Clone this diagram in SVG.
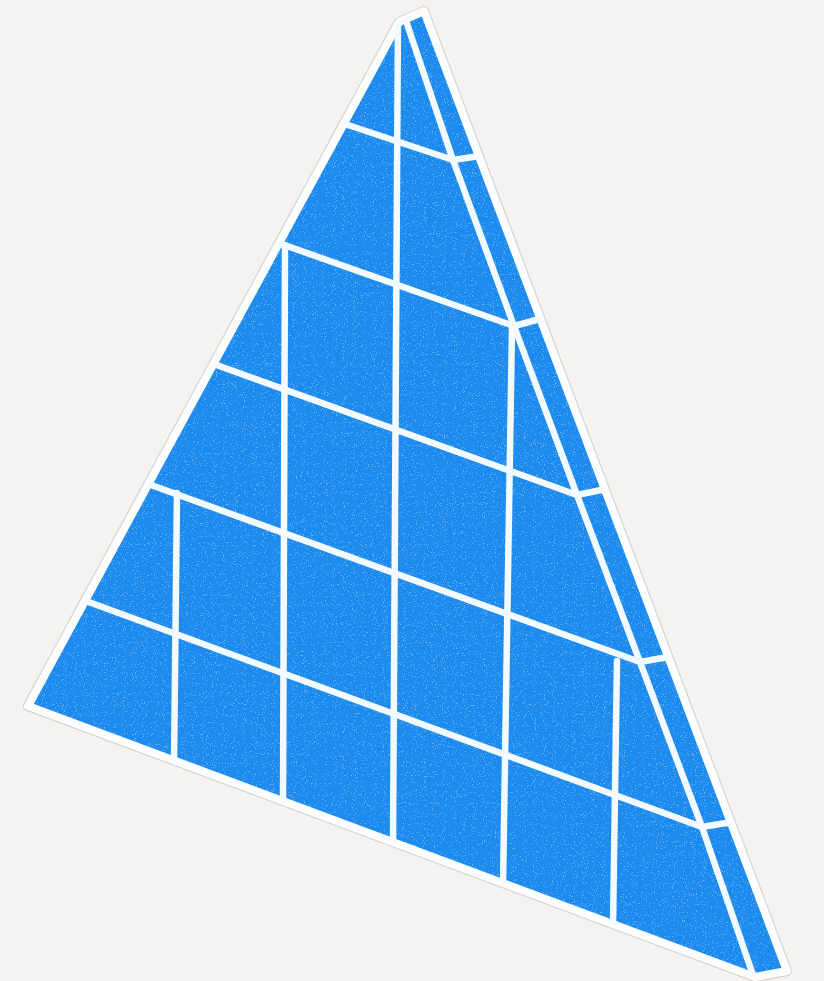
<svg xmlns="http://www.w3.org/2000/svg" width="824" height="981" viewBox="0 0 824 981">
  <style>
    .grid { stroke: #f3faff; stroke-width: 6.5; stroke-linecap: round; stroke-linejoin: round; fill: none; }
  </style>
  <defs>
    <clipPath id="clip">
      <polygon points="399,22 424,11 787,971 755,977 28,706"/>
    </clipPath>
    <filter id="speckle" x="0" y="0" width="100%" height="100%">
      <feTurbulence type="fractalNoise" baseFrequency="0.9" numOctaves="2" seed="3" result="n"/>
      <feColorMatrix in="n" type="matrix" values="0 0 0 0 1  0 0 0 0 1  0 0 0 0 1  9 0 0 0 -5.6"/>
    </filter>
  </defs>
  <rect width="824" height="981" fill="#f4f3f1"/>
  <g id="panel">
    <polygon points="399,22 424,11 787,971 755,977 28,706" fill="none" stroke="#d6ccc1" stroke-width="10" stroke-linejoin="round"/>
    <polygon points="399,22 424,11 787,971 755,977 28,706" fill="#1d8bed" stroke="#fbfdff" stroke-width="8" stroke-linejoin="round"/>
    <rect width="824" height="981" filter="url(#speckle)" clip-path="url(#clip)" opacity="0.35"/>
  </g>
  <g id="lines" clip-path="url(#clip)">
    <polyline class="grid" points="405,18 453,160 514,326 577,495 640,662 702,827 753,975"/>
    <polyline class="grid" points="330,119 453,160 480,156"/>
    <polyline class="grid" points="270,240 514,326 540,319"/>
    <polyline class="grid" points="200,359 577,495 606,489"/>
    <polyline class="grid" points="140,481 640,662 668,657"/>
    <polyline class="grid" points="75,597 702,827 732,822"/>
    <line class="grid" x1="398" y1="15" x2="393" y2="845"/>
    <line class="grid" x1="285" y1="245" x2="283" y2="805"/>
    <line class="grid" x1="177" y1="493" x2="174" y2="765"/>
    <line class="grid" x1="512" y1="326" x2="503" y2="885"/>
    <line class="grid" x1="617" y1="661" x2="613" y2="925"/>
  </g>
</svg>
